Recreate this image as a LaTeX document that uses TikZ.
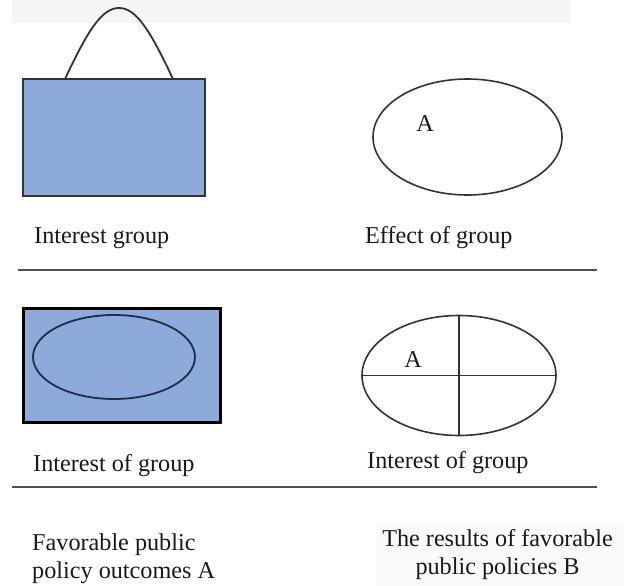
\documentclass[tikz,border=0pt]{standalone}
\usepackage{fontspec}
\setmainfont{Liberation Serif}
\usepackage{xcolor}
\definecolor{boxblue}{RGB}{142,170,219}
\definecolor{inkgray}{RGB}{51,51,51}
\definecolor{rulegray}{RGB}{80,80,80}
\definecolor{navyline}{RGB}{30,45,75}
\definecolor{bandgray}{RGB}{244,245,247}
\usetikzlibrary{shapes.geometric}

\begin{document}
\begin{tikzpicture}[
  x=1pt,y=-1pt,
  every node/.style={font=\fontsize{24.2}{28}\selectfont,text=black!90},
  lbl/.style={anchor=base west,inner sep=0pt},
  oval/.style={draw=inkgray,line width=1.6pt,ellipse,inner sep=0pt},
  sep/.style={draw=rulegray,line width=2.2pt},
]
  \useasboundingbox (0,0) rectangle (624,586);

  % faint backgrounds
  \fill[bandgray] (12,0) rectangle (570,23);
  \fill[bandgray!45] (376,522) rectangle (624,586);

  % Interest group
  \draw[inkgray,line width=1.8pt] (65,79) .. controls (88,30) and (102,8) .. (119,8)
    .. controls (136,8) and (150,30) .. (173,79);
  \node[draw=inkgray,fill=boxblue,line width=1.6pt,inner sep=0pt,
        minimum width=182pt,minimum height=117pt] (ig) at (114,137.5) {};
  \node[lbl] (lig) at (34,243) {Interest group};

  % Effect of group
  \node[oval,minimum width=189pt,minimum height=116pt] (eg) at (467.5,137) {};
  \node[inner sep=0pt] (ega) at (425,124) {A};
  \node[lbl] (leg) at (365,243) {Effect of group};

  \draw[sep] (18,270) -- (597,270);

  % Interest of group (left)
  \node[draw=black,fill=boxblue,line width=3pt,inner sep=0pt,
        minimum width=197pt,minimum height=114pt] (iog) at (121.5,365) {};
  \node[oval,draw=navyline,line width=1.8pt,minimum width=162pt,minimum height=84pt]
    (iogin) at (114,357) {};
  \node[lbl] (liog) at (33,471) {Interest of group};

  % Interest of group (right)
  \node[oval,minimum width=194pt,minimum height=120pt] (iog2) at (459,375.5) {};
  \draw[inkgray,line width=1.6pt] (iog2.north) -- (iog2.south);
  \draw[inkgray,line width=1.6pt] (iog2.west) -- (iog2.east);
  \node[inner sep=0pt] (iog2a) at (413,360) {A};
  \node[lbl] (liog2) at (367,468) {Interest of group};

  \draw[sep] (12,487) -- (597,487);

  % outcomes
  \node[anchor=north west,align=left,inner sep=0pt] (outa) at (32,533.5)
    {Favorable public\\policy outcomes A};
  \node[anchor=north,align=center,inner sep=0pt] (outb) at (497.5,529.5)
    {The results of favorable\\public policies B};
\end{tikzpicture}
\end{document}
